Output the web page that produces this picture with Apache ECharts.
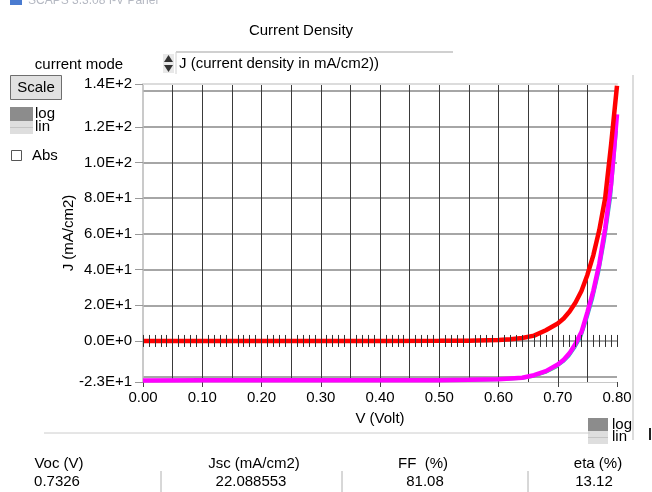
<!DOCTYPE html>
<html>
<head>
<meta charset="utf-8">
<script src="https://cdn.jsdelivr.net/npm/echarts@6/dist/echarts.min.js"></script>
<style>
html,body{margin:0;padding:0;background:#fff;}
#chart{width:652px;height:492px;}
</style>
</head>
<body>
<div id="chart"></div>
<script>
// Bias voltage (V)
const voltage = [0.00, 0.10, 0.20, 0.30, 0.40, 0.50, 0.55, 0.60, 0.62, 0.64, 0.66, 0.68, 0.70, 0.71, 0.72, 0.73, 0.74, 0.75, 0.76, 0.77, 0.78, 0.79, 0.80];
// Dark J-V curve (mA/cm2)
const jDark = [0, 0, 0, 0, 0.01, 0.05, 0.15, 0.5, 0.9, 1.7, 3.0, 6.0, 9.8, 12.6, 16.5, 21.5, 28, 37, 48, 62, 80, 110, 143];
// Illuminated J-V curve (mA/cm2)
const jLight = [-22.09, -22.08, -22.07, -22.06, -22.04, -21.95, -21.8, -21.4, -21.0, -20.6, -19.2, -16.9, -13.2, -10.5, -6.8, -1.5, 5.0, 16, 28, 43, 63, 88, 127];
// Earlier illuminated runs, drawn underneath
const jLightPrev1 = [-22.35, -22.34, -22.33, -22.32, -22.3, -22.22, -22.08, -21.7, -21.35, -21.0, -19.7, -17.6, -14.2, -11.8, -8.4, -3.6, 2.4, 12.5, 24, 38.5, 57, 80, 118];
const jLightPrev2 = [null, null, null, null, -22.45, -22.4, -22.3, -21.95, -21.6, -21.2, -20.0, -17.9, -14.5, null, null, null, null, null, null, null, null, null, null];

// Axis ticks and labels
const xLabelValues = [0, 0.1, 0.2, 0.3, 0.4, 0.5, 0.6, 0.7, 0.8];
const yLabelValues = [-23, 0, 20, 40, 60, 80, 100, 120, 144];
const yGridValues = [-20, 0, 20, 40, 60, 80, 100, 120, 140];
const yMin = -23, yMax = 144;

const FONT = '"Liberation Sans", Arial, sans-serif';

function sci(v) {
  if (v === 0) return '0.0E+0';
  const e = Math.floor(Math.log10(Math.abs(v)) + 1e-9);
  const m = v / Math.pow(10, e);
  return m.toFixed(1) + 'E+' + e;
}
const pairs = arr => voltage.map((v, i) => [v, arr[i]]);

function txt(text, x, y, align, size, color) {
  return {
    type: 'text', z: 10,
    style: {
      text: text, x: x, y: y,
      fill: color || '#000',
      font: (size || 15) + 'px ' + FONT,
      align: align || 'left', verticalAlign: 'middle',
      textAlign: align || 'left', textVerticalAlign: 'middle'
    }
  };
}
function line(x1, y1, x2, y2, color, w) {
  return { type: 'line', z: 10, shape: { x1, y1, x2, y2 }, style: { stroke: color, lineWidth: w || 1 } };
}
function rect(x, y, w, h, fill, stroke) {
  return { type: 'rect', z: 10, shape: { x, y, width: w, height: h }, style: { fill: fill, stroke: stroke || null, lineWidth: 1 } };
}

const chart = echarts.init(document.getElementById('chart'), null, { renderer: 'canvas' });

const hidden = { show: false };

chart.setOption({
  backgroundColor: '#ffffff',
  animation: false,
  grid: { left: 143, right: 35, top: 84, bottom: 110, containLabel: false, outerBoundsMode: 'none' },
  xAxis: [
    { // main V axis: labels + vertical grid every 0.05
      type: 'value', position: 'bottom', min: 0, max: 0.8, interval: 0.05,
      name: 'V (Volt)', nameLocation: 'middle', nameGap: 29, nameMoveOverlap: false,
      nameTextStyle: { color: '#000', fontSize: 15, fontFamily: FONT },
      axisLine: { show: true, onZero: false, lineStyle: { color: '#c8c8c8', width: 1 } },
      axisTick: hidden,
      axisLabel: {
        customValues: xLabelValues, color: '#000', fontSize: 15, fontFamily: FONT, margin: 8,
        formatter: v => v.toFixed(2)
      },
      splitLine: { show: true, showMinLine: false, showMaxLine: false, lineStyle: { color: '#3a3a3a', width: 1 } }
    },
    { // bottom tick marks every 0.1
      type: 'value', position: 'bottom', min: 0, max: 0.8,
      axisLine: { show: false, onZero: false },
      axisTick: { show: true, customValues: xLabelValues, length: 5, lineStyle: { color: '#444' } },
      axisLabel: hidden, splitLine: hidden
    },
    { // zero line ticks, lower half
      type: 'value', position: 'bottom', min: 0, max: 0.8, interval: 0.01, z: 5,
      axisLine: { show: false, onZero: true, onZeroAxisIndex: 0 },
      axisTick: { show: true, inside: false, length: 6, lineStyle: { color: '#333', width: 1 } },
      axisLabel: hidden, splitLine: hidden
    },
    { // zero line ticks, upper half
      type: 'value', position: 'bottom', min: 0, max: 0.8, interval: 0.01, z: 5,
      axisLine: { show: false, onZero: true, onZeroAxisIndex: 0 },
      axisTick: { show: true, inside: true, length: 6, lineStyle: { color: '#333', width: 1 } },
      axisLabel: hidden, splitLine: hidden
    },
    { // top frame line
      type: 'value', position: 'top', min: 0, max: 0.8,
      axisLine: { show: true, onZero: false, lineStyle: { color: '#dcdcdc', width: 2 } },
      axisTick: hidden, axisLabel: hidden, splitLine: hidden
    }
  ],
  yAxis: [
    { // J axis: labels at ends and round values
      type: 'value', position: 'left', min: yMin, max: yMax,
      name: 'J (mA/cm2)', nameLocation: 'middle', nameGap: 67, nameMoveOverlap: false,
      nameTextStyle: { color: '#000', fontSize: 15, fontFamily: FONT },
      axisLine: { show: true, onZero: false, lineStyle: { color: '#b8b8b8', width: 1.5 } },
      axisTick: { show: true, customValues: yLabelValues, length: 8, lineStyle: { color: '#999' } },
      axisLabel: {
        customValues: yLabelValues, color: '#000', fontSize: 15, fontFamily: FONT, margin: 11,
        formatter: v => sci(v)
      },
      splitLine: hidden
    },
    { // horizontal grid every 20
      type: 'value', position: 'left', min: yMin, max: yMax,
      axisLine: { show: false, onZero: false },
      axisTick: { show: false, customValues: yGridValues },
      axisLabel: hidden,
      splitLine: { show: true, lineStyle: { color: '#a6a6a6', width: 2 } }
    }
  ],
  series: [
    {
      type: 'line', xAxisIndex: 0, yAxisIndex: 0, data: pairs(jLightPrev1),
      symbol: 'none', z: 2, lineStyle: { color: '#27b3c4', width: 2 }
    },
    {
      type: 'line', xAxisIndex: 0, yAxisIndex: 0, data: pairs(jLightPrev2),
      symbol: 'none', z: 2, lineStyle: { color: '#3ddc84', width: 2 }
    },
    {
      type: 'line', xAxisIndex: 0, yAxisIndex: 0, data: pairs(jLight),
      symbol: 'none', z: 3, lineStyle: { color: '#ff00ff', width: 4.5 }
    },
    {
      type: 'line', xAxisIndex: 0, yAxisIndex: 0, data: pairs(jDark),
      symbol: 'none', z: 4, lineStyle: { color: '#ff0000', width: 4.5 }
    }
  ],
  graphic: [
    // window caption
    rect(10, 0, 12, 5, '#4a7bd0'),
    txt('SCAPS 3.3.08 I-V Panel', 28, 1, 'left', 12, '#b4b8c2'),
    // title and selectors
    txt('Current Density', 301, 31, 'center', 15),
    txt('current mode', 79, 65, 'center', 15),
    line(176, 52, 453, 52, '#d0d0d0', 2),
    line(176, 52, 176, 74, '#d0d0d0', 1),
    rect(163, 54, 11, 19, '#e8e8e8'),
    { type: 'polygon', z: 11, shape: { points: [[164, 62], [173, 62], [168.5, 55]] }, style: { fill: '#333' } },
    { type: 'polygon', z: 11, shape: { points: [[164, 65], [173, 65], [168.5, 72]] }, style: { fill: '#333' } },
    txt('J (current density in mA/cm2))', 179, 64, 'left', 15),
    // Scale button
    rect(10.5, 75.5, 51, 24, '#e1e1e1', '#6e6e6e'),
    txt('Scale', 36, 88, 'center', 15),
    // log / lin toggle
    rect(10, 107, 23, 14, '#8c8c8c'),
    rect(10, 121, 23, 13, '#dedede'),
    line(10, 127.5, 33, 127.5, '#c4c4c4', 1),
    txt('log', 35, 114, 'left', 15),
    txt('lin', 35, 127, 'left', 15),
    // Abs checkbox
    rect(11.5, 150.5, 10, 10, '#ffffff', '#555'),
    txt('Abs', 32, 156, 'left', 15),
    // lower log / lin toggle
    rect(588, 418, 20, 13, '#8c8c8c'),
    rect(588, 431, 20, 13, '#dedede'),
    line(588, 437.5, 608, 437.5, '#c4c4c4', 1),
    txt('log', 612, 425, 'left', 15),
    txt('lin', 612, 437, 'left', 15),
    // panel borders
    line(633, 75, 633, 440, '#dcdcdc', 2),
    line(650, 428, 650, 440, '#222', 2),
    line(44, 433, 590, 433, '#cccccc', 1),
    // results table
    txt('Voc (V)', 59, 464, 'center', 15),
    txt('0.7326', 57, 482, 'center', 15),
    txt('Jsc (mA/cm2)', 254, 464, 'center', 15),
    txt('22.088553', 251, 482, 'center', 15),
    txt('FF  (%)', 423, 464, 'center', 15),
    txt('81.08', 425, 482, 'center', 15),
    txt('eta (%)', 598, 464, 'center', 15),
    txt('13.12', 594, 482, 'center', 15),
    line(161, 471, 161, 492, '#b0b0b0', 1),
    line(342, 471, 342, 492, '#b0b0b0', 1),
    line(528, 471, 528, 492, '#b0b0b0', 1)
  ]
});
</script>
</body>
</html>
